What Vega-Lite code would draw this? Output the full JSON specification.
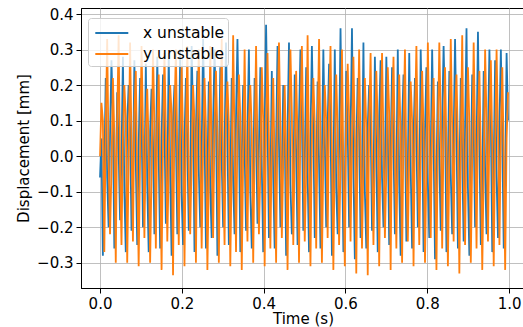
{
"$schema": "https://vega.github.io/schema/vega-lite/v6.json",
"width": 444, "height": 280,
"autosize": "none",
"padding": {"left": 81, "top": 8, "right": 0, "bottom": 39},
"background": "white",
"config": {
  "view": {"stroke": "#000", "strokeWidth": 1},
  "font": "DejaVu Sans",
  "axis": {"domainColor": "#000", "domainWidth": 1, "tickColor": "#000", "tickSize": 5, "tickWidth": 1, "labelFontSize": 15, "labelColor": "#000", "titleFontSize": 15, "titleFontWeight": "normal", "titleColor": "#000", "gridColor": "#b0b0b0", "gridWidth": 0.8, "labelPadding": 3}
},
"data": {"values": [
{"t":0,"x":-0.06,"y":0.0},{"t":0.0035,"x":0.05,"y":0.15},{"t":0.007,"x":-0.28,"y":0.1},{"t":0.0105,"x":-0.04,"y":-0.27},
{"t":0.014,"x":0.22,"y":0.08},{"t":0.0175,"x":-0.06,"y":0.33},{"t":0.021,"x":-0.2,"y":0.0},{"t":0.0245,"x":0.06,"y":-0.22},
{"t":0.028,"x":0.27,"y":-0.04},{"t":0.0315,"x":0.1,"y":0.22},{"t":0.035,"x":-0.26,"y":0.06},{"t":0.0385,"x":-0.1,"y":-0.3},
{"t":0.042,"x":0.18,"y":0.1},{"t":0.0455,"x":0.02,"y":0.34},{"t":0.049,"x":-0.18,"y":-0.03},{"t":0.0525,"x":0.0,"y":-0.25},
{"t":0.056,"x":0.28,"y":0.05},{"t":0.0595,"x":-0.1,"y":0.2},{"t":0.063,"x":-0.27,"y":0.11},{"t":0.0665,"x":0.09,"y":-0.3},
{"t":0.07,"x":0.2,"y":-0.02},{"t":0.0735,"x":0.08,"y":0.32},{"t":0.077,"x":-0.21,"y":0.04},{"t":0.0805,"x":-0.07,"y":-0.24},
{"t":0.084,"x":0.27,"y":0.12},{"t":0.0875,"x":-0.02,"y":0.24},{"t":0.091,"x":-0.25,"y":-0.06},{"t":0.0945,"x":0.03,"y":-0.31},
{"t":0.098,"x":0.22,"y":0.0},{"t":0.1015,"x":0.12,"y":0.31},{"t":0.105,"x":-0.2,"y":0.08},{"t":0.1085,"x":-0.12,"y":-0.23},
{"t":0.112,"x":0.26,"y":0.07},{"t":0.1155,"x":-0.08,"y":0.19},{"t":0.119,"x":-0.27,"y":0.02},{"t":0.1225,"x":0.07,"y":-0.3},
{"t":0.126,"x":0.19,"y":-0.05},{"t":0.1295,"x":0.04,"y":0.3},{"t":0.133,"x":-0.22,"y":0.09},{"t":0.1365,"x":-0.02,"y":-0.26},
{"t":0.14,"x":0.28,"y":0.09},{"t":0.1435,"x":0.0,"y":0.23},{"t":0.147,"x":-0.26,"y":-0.02},{"t":0.1505,"x":0.05,"y":-0.32},
{"t":0.154,"x":0.23,"y":0.03},{"t":0.1575,"x":0.09,"y":0.29},{"t":0.161,"x":-0.19,"y":0.07},{"t":0.1645,"x":-0.08,"y":-0.24},
{"t":0.168,"x":0.29,"y":-0.03},{"t":0.1715,"x":-0.05,"y":0.2},{"t":0.175,"x":-0.28,"y":0.12},{"t":0.1785,"x":0.1,"y":-0.335},
{"t":0.182,"x":0.2,"y":0.11},{"t":0.1855,"x":0.06,"y":0.3},{"t":0.189,"x":-0.22,"y":0.01},{"t":0.1925,"x":-0.03,"y":-0.25},
{"t":0.196,"x":0.3,"y":0.04},{"t":0.1995,"x":-0.11,"y":0.25},{"t":0.203,"x":-0.25,"y":0.05},{"t":0.2065,"x":0.04,"y":-0.31},
{"t":0.21,"x":0.22,"y":0.06},{"t":0.2135,"x":0.03,"y":0.31},{"t":0.217,"x":-0.21,"y":-0.04},{"t":0.2205,"x":-0.11,"y":-0.22},
{"t":0.224,"x":0.31,"y":-0.01},{"t":0.2275,"x":0.1,"y":0.2},{"t":0.231,"x":-0.27,"y":0.1},{"t":0.2345,"x":0.08,"y":-0.3},
{"t":0.238,"x":0.24,"y":0.1},{"t":0.2415,"x":-0.04,"y":0.3},{"t":0.245,"x":-0.2,"y":0.03},{"t":0.2485,"x":0.01,"y":-0.26},
{"t":0.252,"x":0.33,"y":0.02},{"t":0.2555,"x":0.07,"y":0.22},{"t":0.259,"x":-0.26,"y":0.08},{"t":0.2625,"x":-0.06,"y":-0.32},
{"t":0.266,"x":0.21,"y":-0.06},{"t":0.2695,"x":-0.09,"y":0.31},{"t":0.273,"x":-0.23,"y":0.0},{"t":0.2765,"x":0.09,"y":-0.23},
{"t":0.28,"x":0.3,"y":0.08},{"t":0.2835,"x":0.11,"y":0.24},{"t":0.287,"x":-0.28,"y":0.06},{"t":0.2905,"x":-0.05,"y":-0.3},
{"t":0.294,"x":0.25,"y":0.05},{"t":0.2975,"x":-0.01,"y":0.33},{"t":0.301,"x":-0.2,"y":-0.05},{"t":0.3045,"x":0.02,"y":-0.25},
{"t":0.308,"x":0.32,"y":0.12},{"t":0.3115,"x":0.05,"y":0.21},{"t":0.315,"x":-0.25,"y":0.09},{"t":0.3185,"x":-0.09,"y":-0.31},
{"t":0.322,"x":0.22,"y":-0.02},{"t":0.3255,"x":-0.07,"y":0.34},{"t":0.329,"x":-0.22,"y":0.04},{"t":0.3325,"x":0.11,"y":-0.27},
{"t":0.336,"x":0.33,"y":0.06},{"t":0.3395,"x":0.08,"y":0.23},{"t":0.343,"x":-0.27,"y":0.11},{"t":0.3465,"x":-0.01,"y":-0.32},
{"t":0.35,"x":0.2,"y":0.0},{"t":0.3535,"x":0.02,"y":0.3},{"t":0.357,"x":-0.21,"y":-0.01},{"t":0.3605,"x":0.06,"y":-0.24},
{"t":0.364,"x":0.3,"y":0.1},{"t":0.3675,"x":-0.1,"y":0.2},{"t":0.371,"x":-0.26,"y":0.07},{"t":0.3745,"x":-0.07,"y":-0.3},
{"t":0.378,"x":0.22,"y":0.03},{"t":0.3815,"x":0.06,"y":0.31},{"t":0.385,"x":-0.19,"y":0.02},{"t":0.3885,"x":0.03,"y":-0.22},
{"t":0.392,"x":0.25,"y":-0.04},{"t":0.3955,"x":-0.03,"y":0.25},{"t":0.399,"x":-0.27,"y":0.1},{"t":0.4025,"x":0.08,"y":-0.31},
{"t":0.406,"x":0.37,"y":0.09},{"t":0.4095,"x":0.1,"y":0.29},{"t":0.413,"x":-0.23,"y":0.05},{"t":0.4165,"x":-0.1,"y":-0.26},
{"t":0.42,"x":0.24,"y":0.04},{"t":0.4235,"x":-0.06,"y":0.22},{"t":0.427,"x":-0.26,"y":-0.03},{"t":0.4305,"x":0.04,"y":-0.3},
{"t":0.434,"x":0.31,"y":0.11},{"t":0.4375,"x":0.04,"y":0.32},{"t":0.441,"x":-0.2,"y":0.08},{"t":0.4445,"x":-0.04,"y":-0.23},
{"t":0.448,"x":0.2,"y":-0.01},{"t":0.4515,"x":0.09,"y":0.2},{"t":0.455,"x":-0.28,"y":0.0},{"t":0.4585,"x":0.07,"y":-0.32},
{"t":0.462,"x":0.32,"y":0.07},{"t":0.4655,"x":-0.08,"y":0.3},{"t":0.469,"x":-0.22,"y":0.12},{"t":0.4725,"x":-0.12,"y":-0.25},
{"t":0.476,"x":0.23,"y":0.02},{"t":0.4795,"x":0.01,"y":0.24},{"t":0.483,"x":-0.25,"y":0.04},{"t":0.4865,"x":0.1,"y":-0.3},
{"t":0.49,"x":0.3,"y":0.1},{"t":0.4935,"x":0.12,"y":0.31},{"t":0.497,"x":-0.21,"y":0.06},{"t":0.5005,"x":-0.02,"y":-0.24},
{"t":0.504,"x":0.25,"y":-0.05},{"t":0.5075,"x":-0.05,"y":0.34},{"t":0.511,"x":-0.27,"y":-0.02},{"t":0.5145,"x":0.05,"y":-0.31},
{"t":0.518,"x":0.31,"y":0.06},{"t":0.5215,"x":0.07,"y":0.22},{"t":0.525,"x":-0.23,"y":0.09},{"t":0.5285,"x":-0.08,"y":-0.26},
{"t":0.532,"x":0.21,"y":0.08},{"t":0.5355,"x":-0.02,"y":0.33},{"t":0.539,"x":-0.26,"y":0.03},{"t":0.5425,"x":0.0,"y":-0.3},
{"t":0.546,"x":0.3,"y":0.0},{"t":0.5495,"x":0.05,"y":0.2},{"t":0.553,"x":-0.2,"y":0.1},{"t":0.5565,"x":0.09,"y":-0.23},
{"t":0.56,"x":0.26,"y":0.12},{"t":0.5635,"x":0.1,"y":0.31},{"t":0.567,"x":-0.28,"y":0.01},{"t":0.5705,"x":-0.06,"y":-0.32},
{"t":0.574,"x":0.3,"y":0.03},{"t":0.5775,"x":-0.09,"y":0.23},{"t":0.581,"x":-0.22,"y":0.07},{"t":0.5845,"x":0.03,"y":-0.25},
{"t":0.588,"x":0.36,"y":-0.03},{"t":0.5915,"x":0.03,"y":0.3},{"t":0.595,"x":-0.27,"y":-0.04},{"t":0.5985,"x":-0.1,"y":-0.31},
{"t":0.602,"x":0.24,"y":0.09},{"t":0.6055,"x":0.08,"y":0.26},{"t":0.609,"x":-0.2,"y":0.11},{"t":0.6125,"x":0.06,"y":-0.24},
{"t":0.616,"x":0.36,"y":0.05},{"t":0.6195,"x":-0.04,"y":0.28},{"t":0.623,"x":-0.29,"y":0.05},{"t":0.6265,"x":0.02,"y":-0.33},
{"t":0.63,"x":0.22,"y":0.07},{"t":0.6335,"x":0.06,"y":0.3},{"t":0.637,"x":-0.23,"y":0.02},{"t":0.6405,"x":-0.05,"y":-0.26},
{"t":0.644,"x":0.32,"y":-0.02},{"t":0.6475,"x":-0.1,"y":0.22},{"t":0.651,"x":-0.26,"y":0.08},{"t":0.6545,"x":0.08,"y":-0.335},
{"t":0.658,"x":0.2,"y":0.1},{"t":0.6615,"x":0.11,"y":0.29},{"t":0.665,"x":-0.21,"y":-0.01},{"t":0.6685,"x":-0.09,"y":-0.25},
{"t":0.672,"x":0.28,"y":0.01},{"t":0.6755,"x":0.0,"y":0.24},{"t":0.679,"x":-0.27,"y":0.09},{"t":0.6825,"x":0.11,"y":-0.31},
{"t":0.686,"x":0.27,"y":0.06},{"t":0.6895,"x":-0.06,"y":0.29},{"t":0.693,"x":-0.2,"y":0.04},{"t":0.6965,"x":-0.03,"y":-0.23},
{"t":0.7,"x":0.28,"y":-0.04},{"t":0.7035,"x":0.07,"y":0.25},{"t":0.707,"x":-0.25,"y":0.12},{"t":0.7105,"x":0.01,"y":-0.32},
{"t":0.714,"x":0.25,"y":0.11},{"t":0.7175,"x":0.02,"y":0.28},{"t":0.721,"x":-0.22,"y":0.0},{"t":0.7245,"x":-0.07,"y":-0.26},
{"t":0.728,"x":0.3,"y":0.04},{"t":0.7315,"x":-0.08,"y":0.23},{"t":0.735,"x":-0.28,"y":0.06},{"t":0.7385,"x":0.09,"y":-0.3},
{"t":0.742,"x":0.23,"y":0.08},{"t":0.7455,"x":0.1,"y":0.3},{"t":0.749,"x":-0.24,"y":-0.03},{"t":0.7525,"x":-0.04,"y":-0.24},
{"t":0.756,"x":0.29,"y":0.0},{"t":0.7595,"x":-0.03,"y":0.21},{"t":0.763,"x":-0.26,"y":0.1},{"t":0.7665,"x":0.05,"y":-0.31},
{"t":0.77,"x":0.22,"y":0.1},{"t":0.7735,"x":0.05,"y":0.31},{"t":0.777,"x":-0.2,"y":0.03},{"t":0.7805,"x":-0.11,"y":-0.25},
{"t":0.784,"x":0.3,"y":0.02},{"t":0.7875,"x":0.09,"y":0.24},{"t":0.791,"x":-0.27,"y":0.07},{"t":0.7945,"x":0.07,"y":-0.3},
{"t":0.798,"x":0.25,"y":-0.03},{"t":0.8015,"x":-0.07,"y":0.32},{"t":0.805,"x":-0.23,"y":0.05},{"t":0.8085,"x":0.0,"y":-0.23},
{"t":0.812,"x":0.3,"y":0.09},{"t":0.8155,"x":0.04,"y":0.22},{"t":0.819,"x":-0.29,"y":-0.02},{"t":0.8225,"x":-0.06,"y":-0.32},
{"t":0.826,"x":0.21,"y":0.05},{"t":0.8295,"x":-0.01,"y":0.32},{"t":0.833,"x":-0.21,"y":0.11},{"t":0.8365,"x":0.1,"y":-0.26},
{"t":0.84,"x":0.31,"y":0.07},{"t":0.8435,"x":0.12,"y":0.25},{"t":0.847,"x":-0.27,"y":0.02},{"t":0.8505,"x":-0.02,"y":-0.31},
{"t":0.854,"x":0.24,"y":-0.01},{"t":0.8575,"x":-0.05,"y":0.33},{"t":0.861,"x":-0.22,"y":0.08},{"t":0.8645,"x":0.04,"y":-0.24},
{"t":0.868,"x":0.33,"y":0.12},{"t":0.8715,"x":0.06,"y":0.23},{"t":0.875,"x":-0.26,"y":0.04},{"t":0.8785,"x":-0.08,"y":-0.33},
{"t":0.882,"x":0.22,"y":0.03},{"t":0.8855,"x":0.0,"y":0.34},{"t":0.889,"x":-0.24,"y":-0.05},{"t":0.8925,"x":0.08,"y":-0.25},
{"t":0.896,"x":0.36,"y":0.06},{"t":0.8995,"x":-0.09,"y":0.25},{"t":0.903,"x":-0.28,"y":0.09},{"t":0.9065,"x":-0.05,"y":-0.3},
{"t":0.91,"x":0.23,"y":0.0},{"t":0.9135,"x":0.08,"y":0.32},{"t":0.917,"x":-0.2,"y":0.06},{"t":0.9205,"x":0.02,"y":-0.26},
{"t":0.924,"x":0.35,"y":0.1},{"t":0.9275,"x":0.03,"y":0.24},{"t":0.931,"x":-0.25,"y":0.01},{"t":0.9345,"x":-0.1,"y":-0.32},
{"t":0.938,"x":0.24,"y":-0.04},{"t":0.9415,"x":-0.04,"y":0.3},{"t":0.945,"x":-0.22,"y":0.1},{"t":0.9485,"x":0.06,"y":-0.24},
{"t":0.952,"x":0.3,"y":0.08},{"t":0.9555,"x":0.1,"y":0.27},{"t":0.959,"x":-0.27,"y":0.03},{"t":0.9625,"x":-0.03,"y":-0.31},
{"t":0.966,"x":0.27,"y":0.04},{"t":0.9695,"x":-0.06,"y":0.3},{"t":0.973,"x":-0.23,"y":0.07},{"t":0.9765,"x":0.09,"y":-0.25},
{"t":0.98,"x":0.3,"y":0.06},{"t":0.9835,"x":0.05,"y":0.25},{"t":0.987,"x":-0.26,"y":0.0},{"t":0.9905,"x":-0.07,"y":-0.32},
{"t":0.994,"x":0.29,"y":0.05},{"t":0.9975,"x":0.1,"y":0.18}
]},
"transform": [{"fold": ["x", "y"], "as": ["series", "value"]}],
"mark": {"type": "line", "strokeWidth": 1.8, "clip": true},
"encoding": {
  "x": {"field": "t", "type": "quantitative", "scale": {"domain": [-0.0465, 1.039], "nice": false, "zero": false}, "axis": {"values": [0, 0.2, 0.4, 0.6, 0.8, 1.0], "format": ".1f", "title": "Time (s)", "titlePadding": 0}},
  "y": {"field": "value", "type": "quantitative", "scale": {"domain": [-0.371, 0.417], "nice": false, "zero": false}, "axis": {"values": [-0.3, -0.2, -0.1, 0, 0.1, 0.2, 0.3, 0.4], "format": ".1f", "title": "Displacement [mm]", "titlePadding": 5}},
  "color": {"field": "series", "type": "nominal", "scale": {"domain": ["x", "y"], "range": ["#1f77b4", "#ff7f0e"]}, "legend": {"title": null, "orient": "none", "legendX": 7, "legendY": 10, "symbolType": "M-0.7,0H2.3", "symbolSize": 484, "symbolStrokeWidth": 1.8, "labelFontSize": 15.5, "labelOffset": 28, "padding": 3, "rowPadding": 0, "fillColor": "rgba(255,255,255,0.8)", "strokeColor": "#cccccc", "cornerRadius": 3, "labelColor": "#000", "labelExpr": "datum.label == 'x' ? 'x unstable' : 'y unstable'"}}
}
}
